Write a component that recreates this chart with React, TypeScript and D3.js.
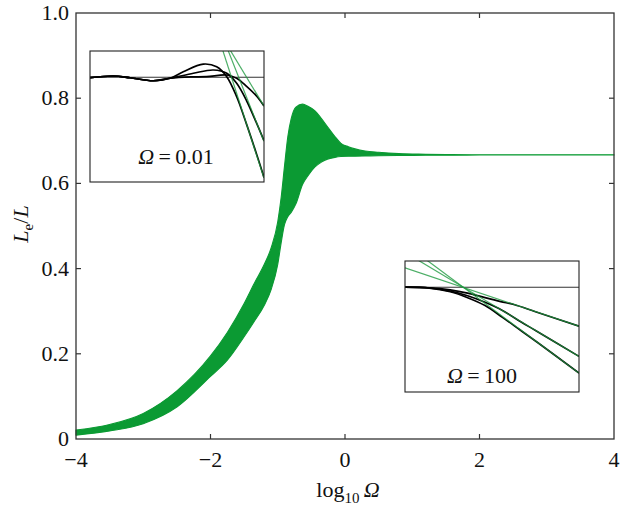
import React from "react";
import * as d3 from "d3";

// ---- Main chart data (log10 Ω, envelope of Le/L) ----
const logOmega = [-4, -3.5, -3, -2.5, -2, -1.75, -1.5, -1.35, -1.2, -1.1, -1.0, -0.95, -0.9, -0.85, -0.8, -0.73, -0.63, -0.55, -0.45, -0.35, -0.26, -0.15, -0.06, 0.05, 0.15, 0.3, 0.5, 0.8, 1.2, 1.6, 2, 3, 4];
const upperRatio = [0.021, 0.034, 0.06, 0.113, 0.195, 0.25, 0.318, 0.365, 0.41, 0.448, 0.51, 0.566, 0.64, 0.71, 0.752, 0.779, 0.786, 0.781, 0.771, 0.752, 0.733, 0.71, 0.694, 0.686, 0.681, 0.676, 0.673, 0.67, 0.6685, 0.6675, 0.667, 0.667, 0.667];
const lowerRatio = [0.009, 0.019, 0.036, 0.075, 0.147, 0.185, 0.24, 0.276, 0.314, 0.35, 0.41, 0.46, 0.503, 0.522, 0.532, 0.552, 0.598, 0.618, 0.638, 0.65, 0.657, 0.661, 0.663, 0.664, 0.664, 0.6645, 0.665, 0.6655, 0.666, 0.6663, 0.6665, 0.6665, 0.6665];

const xTicks = [-4, -2, 0, 2, 4];
const xTickLabels = ["\u22124", "\u22122", "0", "2", "4"];
const yTicks = [0, 0.2, 0.4, 0.6, 0.8, 1.0];
const yTickLabels = ["0", "0.2", "0.4", "0.6", "0.8", "1.0"];

// ---- Inset data (local units 0..10) ----
const insetAsymptote = 8;

const lowCurve1 = [[0, 7.96], [1.34, 8.09], [2.3, 7.96], [3.64, 7.73], [4.6, 7.92], [5.36, 8.42], [6.51, 9.0], [7.28, 8.8], [7.86, 8.04], [8.43, 6.51], [9.0, 4.4], [9.58, 2.1], [10, 0.35]];
const lowCurve2 = [[0, 7.96], [1.34, 8.09], [2.3, 7.96], [3.64, 7.73], [4.6, 7.92], [5.94, 8.3], [7.09, 8.55], [7.86, 8.3], [8.43, 7.53], [9.0, 6.2], [9.58, 4.47], [10, 3.15]];
const lowCurve3 = [[0, 7.96], [1.34, 8.09], [2.3, 7.96], [3.64, 7.73], [4.6, 7.92], [5.8, 8.02], [6.7, 8.04], [7.86, 8.17], [8.43, 7.92], [9.0, 7.3], [9.58, 6.55], [10, 5.8]];
const lowLines = [[[7.57, 10.3], [10, 0.3]], [[7.86, 10.3], [10, 3.1]], [[7.95, 10.3], [10, 5.8]]];

const highCurve1 = [[0, 8], [1.4, 7.96], [2.6, 7.8], [3.6, 7.55], [4.6, 7.2], [5.5, 6.9], [6.3, 6.66], [7.5, 6.13], [10, 5.02]];
const highCurve2 = [[0, 8], [1.4, 7.94], [2.6, 7.7], [3.6, 7.35], [4.6, 6.85], [5.6, 6.23], [6.7, 5.32], [7.5, 4.7], [10, 2.72]];
const highCurve3 = [[0, 8], [1.4, 7.93], [2.6, 7.65], [3.6, 7.2], [4.6, 6.6], [5.6, 5.7], [6.6, 4.75], [7.6, 3.8], [10, 1.44]];
const highLines = [[[0, 9.48], [10, 5.02]], [[0, 10.66], [10, 2.72]], [[0, 11.3], [10, 1.44]]];

const GREEN = "#0b9a33";
const FONT = "'Liberation Serif', 'Times New Roman', serif";

type Box = { x0: number; x1: number; y0: number; y1: number };

function Inset({ id, box, curves, lines, label }: { id: string; box: Box; curves: number[][][]; lines: number[][][]; label: React.ReactNode }) {
  const u = d3.scaleLinear().domain([0, 10]).range([box.x0, box.x1]);
  const v = d3.scaleLinear().domain([0, 10]).range([box.y1, box.y0]);
  const curveGen = d3
    .line<number[]>()
    .x((d) => u(d[0]))
    .y((d) => v(d[1]))
    .curve(d3.curveCatmullRom.alpha(0.5));
  const lineGen = d3
    .line<number[]>()
    .x((d) => u(d[0]))
    .y((d) => v(d[1]));
  return (
    <g>
      <defs>
        <clipPath id={id}>
          <rect x={box.x0} y={box.y0} width={box.x1 - box.x0} height={box.y1 - box.y0} />
        </clipPath>
      </defs>
      <rect x={box.x0} y={box.y0} width={box.x1 - box.x0} height={box.y1 - box.y0} fill="#fff" />
      <g clipPath={`url(#${id})`}>
        <line x1={u(0)} x2={u(10)} y1={v(insetAsymptote)} y2={v(insetAsymptote)} stroke="#333" strokeWidth={1.1} />
        {curves.map((c, i) => (
          <path key={"c" + i} d={curveGen(c) || ""} fill="none" stroke="#000" strokeWidth={1.7} />
        ))}
        {lines.map((l, i) => (
          <path key={"l" + i} d={lineGen(l) || ""} fill="none" stroke="#1f9a40" strokeWidth={1.2} opacity={0.8} />
        ))}
      </g>
      <rect x={box.x0} y={box.y0} width={box.x1 - box.x0} height={box.y1 - box.y0} fill="none" stroke="#222" strokeWidth={1.1} />
      {label}
    </g>
  );
}

export default function App() {
  const W = 624;
  const H = 514;
  const x = d3.scaleLinear().domain([-4, 4]).range([76, 614]);
  const y = d3.scaleLinear().domain([0, 1]).range([439, 13]);

  const idx = d3.range(logOmega.length);
  const area = d3
    .area<number>()
    .x((i) => x(logOmega[i]))
    .y0((i) => y(lowerRatio[i]))
    .y1((i) => y(upperRatio[i]))
    .curve(d3.curveMonotoneX);

  const tickLen = 5;
  const axisColor = "#333";

  const inset1: Box = { x0: 90, x1: 264, y0: 51, y1: 182 };
  const inset2: Box = { x0: 405, x1: 579, y0: 261, y1: 392 };

  return (
    <svg width={W} height={H} style={{ position: "absolute", left: 0, top: 0, background: "#fff" }} fontFamily={FONT}>
      <rect x={0} y={0} width={W} height={H} fill="#fff" />
      {/* band */}
      <path d={area(idx) || ""} fill={GREEN} stroke={GREEN} strokeWidth={1.1} strokeLinejoin="round" />

      {/* frame */}
      <rect x={x(-4)} y={y(1)} width={x(4) - x(-4)} height={y(0) - y(1)} fill="none" stroke={axisColor} strokeWidth={1.3} />

      {/* x ticks */}
      {xTicks.map((t, i) => (
        <g key={"xt" + i}>
          {i > 0 && i < xTicks.length - 1 && (
            <>
              <line x1={x(t)} x2={x(t)} y1={y(0)} y2={y(0) - tickLen} stroke={axisColor} strokeWidth={1.2} />
              <line x1={x(t)} x2={x(t)} y1={y(1)} y2={y(1) + tickLen} stroke={axisColor} strokeWidth={1.2} />
            </>
          )}
          <text x={x(t)} y={467} textAnchor="middle" fontSize={22} fill="#111">
            {xTickLabels[i]}
          </text>
        </g>
      ))}

      {/* y ticks */}
      {yTicks.map((t, i) => (
        <g key={"yt" + i}>
          {i > 0 && i < yTicks.length - 1 && (
            <>
              <line x1={x(-4)} x2={x(-4) + tickLen} y1={y(t)} y2={y(t)} stroke={axisColor} strokeWidth={1.2} />
              <line x1={x(4)} x2={x(4) - tickLen} y1={y(t)} y2={y(t)} stroke={axisColor} strokeWidth={1.2} />
            </>
          )}
          <text x={69} y={y(t) + 7} textAnchor="end" fontSize={22} fill="#111">
            {yTickLabels[i]}
          </text>
        </g>
      ))}

      {/* axis labels */}
      <text x={348} y={497} textAnchor="middle" fontSize={22} fill="#111">
        log
        <tspan fontSize={15} dy={6}>10</tspan>
        <tspan dy={-6} fontStyle="italic">{"\u2009\u03A9"}</tspan>
      </text>
      <text transform="translate(28,224) rotate(-90)" textAnchor="middle" fontSize={22} fill="#111">
        <tspan fontStyle="italic">L</tspan>
        <tspan fontSize={15} dy={5}>e</tspan>
        <tspan dy={-5}>/</tspan>
        <tspan fontStyle="italic">L</tspan>
      </text>

      {/* insets */}
      <Inset
        id="clipLow"
        box={inset1}
        curves={[lowCurve1, lowCurve2, lowCurve3]}
        lines={lowLines}
        label={
          <text x={176} y={164} textAnchor="middle" fontSize={22} fill="#111">
            <tspan fontStyle="italic">{"\u03A9"}</tspan>
            {"\u2009=\u20090.01"}
          </text>
        }
      />
      <Inset
        id="clipHigh"
        box={inset2}
        curves={[highCurve1, highCurve2, highCurve3]}
        lines={highLines}
        label={
          <text x={482} y={383} textAnchor="middle" fontSize={22} fill="#111">
            <tspan fontStyle="italic">{"\u03A9"}</tspan>
            {"\u2009=\u2009100"}
          </text>
        }
      />
    </svg>
  );
}
